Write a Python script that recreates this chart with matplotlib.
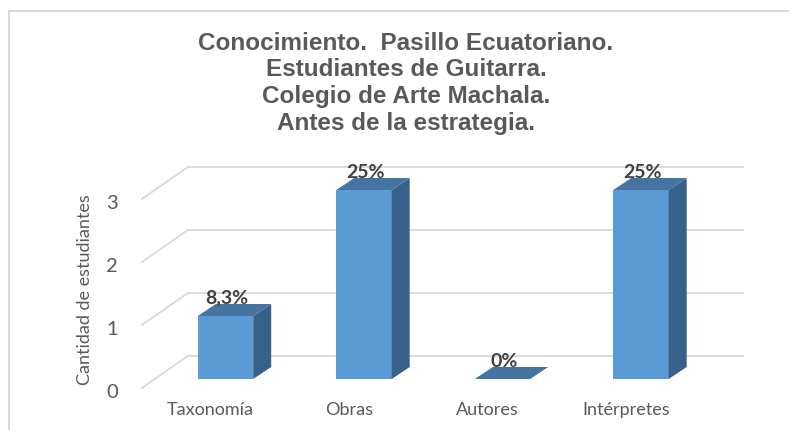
import matplotlib.pyplot as plt
from matplotlib.lines import Line2D
from matplotlib.patches import Polygon

categorias = ['Taxonomía', 'Obras', 'Autores', 'Intérpretes']
cantidades = [1, 3, 0, 3]
porcentajes = ['8,3%', '25%', '0%', '25%']
ticks_y = [0, 1, 2, 3]
titulo = ['Conocimiento.  Pasillo Ecuatoriano.',
          'Estudiantes de Guitarra.',
          'Colegio de Arte Machala.',
          'Antes de la estrategia.']
etiqueta_y = 'Cantidad de estudiantes'

# colores estilo Excel
c_frente = '#5B9BD5'
c_lado = '#386189'
c_arriba = '#4674A2'
c_grid = '#D9D9D9'
c_texto = '#595959'

W, H = 789, 431
fig = plt.figure(figsize=(W / 100, H / 100), dpi=100)
ax = fig.add_axes([0, 0, 1, 1])

# escala: un ancho de categoria y una unidad de valor en pixeles
px_x, px_y = 138.5, 63.0
x0_px, y0_px = 225.5, 380.0
ax.set_xlim(-x0_px / px_x, (W - x0_px) / px_x)
ax.set_ylim((y0_px - H) / px_y, y0_px / px_y)
ax.axis('off')

# profundidad de la barra y de la pared
ancho = 0.4
dx, dy = 18 / px_x, 12 / px_y
fondo_dx, fondo_dy = 33 / px_x, 23 / px_y
frente_dx, frente_dy = -13 / px_x, -9 / px_y
x_fin = (743 - x0_px) / px_x

# lineas de la pared del fondo y del piso
for v in ticks_y:
    ax.plot([fondo_dx - 0.51, x_fin], [v + fondo_dy] * 2, color=c_grid, lw=1.3, zorder=1)
    ax.plot([frente_dx - 0.51, fondo_dx - 0.51], [v + frente_dy, v + fondo_dy],
            color=c_grid, lw=1.3, zorder=1)
    ax.text(-0.82, v - 0.2, str(v), ha='center', va='center',
            fontsize=14.5, color=c_texto, family='Lato')

xs = list(range(len(categorias)))
ax.bar(xs, cantidades, width=ancho, color=c_frente, zorder=3)
for x, h in zip(xs, cantidades):
    der = x + ancho / 2
    izq = x - ancho / 2
    lado = Polygon([(der, 0), (der + dx, dy), (der + dx, h + dy), (der, h)],
                   closed=True, facecolor=c_lado, edgecolor='none', zorder=3)
    tapa = Polygon([(izq, h), (der, h), (der + dx, h + dy), (izq + dx, h + dy)],
                   closed=True, facecolor=c_arriba, edgecolor='none', zorder=4)
    ax.add_patch(lado)
    ax.add_patch(tapa)

for x, h, p in zip(xs, cantidades, porcentajes):
    ax.text(x + 0.01, h + 0.3, p, ha='center', va='center', fontsize=14,
            fontweight='bold', color='#404040', family='Lato', zorder=5)

for x, c in zip(xs, categorias):
    ax.text(x - 0.11, -0.48, c, ha='center', va='center', fontsize=13,
            color=c_texto, family='Lato')

ax.text(-1.014, 1.43, etiqueta_y, ha='center', va='center', rotation=90,
        fontsize=13, color=c_texto, family='Lato')

# titulo
for linea, y in zip(titulo, [43, 70, 97, 124]):
    fig.text(406 / W, 1 - y / H, linea, ha='center', va='center', fontsize=17.5,
             fontweight='bold', color=c_texto, family='Liberation Sans')

# marco del grafico
fig.add_artist(Line2D([8.5 / W, 8.5 / W], [0, 1 - 12 / H], color=c_grid, lw=1.5))
fig.add_artist(Line2D([8.5 / W, 1], [1 - 12 / H, 1 - 12 / H], color=c_grid, lw=1.5))

fig.savefig('out.png', dpi=100, facecolor='white')
